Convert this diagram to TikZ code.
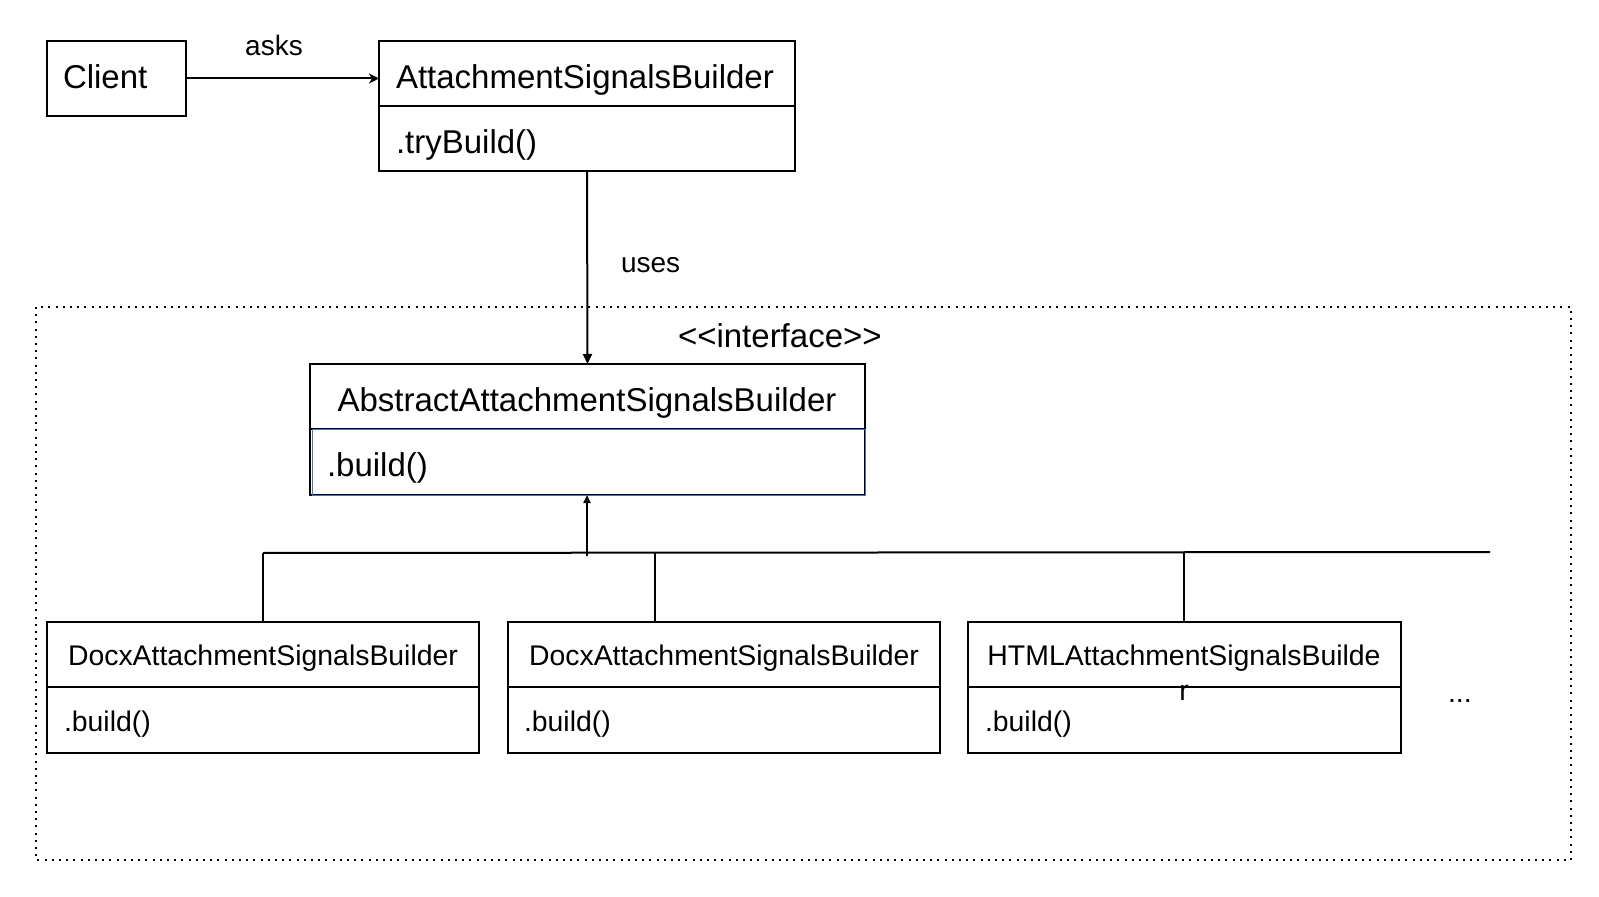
\documentclass[tikz,border=0pt]{standalone}
\usepackage{fontspec}
\setmainfont{Liberation Sans}
\usetikzlibrary{arrows.meta}
\begin{document}
\begin{tikzpicture}[x=0.5pt,y=-0.5pt,
  box/.style={draw=black, line width=1pt, rectangle, inner sep=0pt, outer sep=0pt},
  big/.style={font=\fontsize{16.5pt}{19pt}\selectfont, inner sep=0pt, outer sep=0pt},
  small/.style={font=\fontsize{14.2pt}{17pt}\selectfont, inner sep=0pt, outer sep=0pt},
  lbl/.style={font=\fontsize{14pt}{17pt}\selectfont, inner sep=0pt, outer sep=0pt},
  conn/.style={line width=1pt, draw=black},
  frame/.style={line width=1pt, dash pattern=on 1pt off 2.6pt}
]
\useasboundingbox (0,0) rectangle (1599,897);
\fill[white] (0,0) rectangle (1599,897);

% frame
\draw[frame] (36,307) rectangle (1571,860);

% Client
\node[box, minimum width=69.5pt, minimum height=37.5pt] (client) at (116.5,78.5) {};
\node[big, anchor=base west] (clientT) at (63,89) {Client};

% AttachmentSignalsBuilder
\node[box, minimum width=208pt, minimum height=32.5pt] (asbTop) at (587,73.5) {};
\node[box, minimum width=208pt, minimum height=32.5pt] (asbBot) at (587,138.5) {};
\node[big, anchor=base west] (asbT) at (396,89) {AttachmentSignalsBuilder};
\node[big, anchor=base west] (asbM) at (396,154) {.tryBuild()};

% asks
\draw[conn, -{Stealth[length=5pt,width=5pt,inset=1.5pt]}] (client.east) -- (client.east -| asbTop.west);
\node[lbl, anchor=base] (asks) at (274,56) {asks};

% Abstract
\node[box, minimum width=277.5pt, minimum height=32.5pt] (absTop) at (587.5,396.5) {};
\node[box, minimum width=277.5pt, minimum height=33pt] (absBot) at (587.5,462) {};
\draw[draw={rgb,255:red,68;green,114;blue,196}, line width=0.5pt] ([shift={(2,1)}]absBot.north west) rectangle ([shift={(0,0)}]absBot.south east);
\node[big, anchor=base] (absT) at (587,412) {AbstractAttachmentSignalsBuilder};
\node[big, anchor=base west] (absM) at (327,477) {.build()};
\node[big, anchor=base west] (iface) at (678,348) {<{}<interface>{}>};

% uses
\draw[conn, -{Triangle[length=5pt,width=4.5pt]}] (asbBot.south) -- (absTop.north);
\node[lbl, anchor=base west] (uses) at (621,273) {uses};

% concrete builders
\node[box, minimum width=216pt, minimum height=32.5pt] (b1Top) at (263,654.5) {};
\node[box, minimum width=216pt, minimum height=33pt] (b1Bot) at (263,720) {};
\node[box, minimum width=216pt, minimum height=32.5pt] (b2Top) at (724,654.5) {};
\node[box, minimum width=216pt, minimum height=33pt] (b2Bot) at (724,720) {};
\node[box, minimum width=216.5pt, minimum height=32.5pt] (b3Top) at (1184.5,654.5) {};
\node[box, minimum width=216.5pt, minimum height=33pt] (b3Bot) at (1184.5,720) {};

\node[small, anchor=base] (b1T) at (263,665) {DocxAttachmentSignalsBuilder};
\node[small, anchor=base] (b2T) at (724,665) {DocxAttachmentSignalsBuilder};
\node[small, anchor=base] (b3T) at (1184,665) {HTMLAttachmentSignalsBuilde};
\node[small, anchor=base] (b3R) at (1184,700) {r};
\node[small, anchor=base west] (b1M) at (64,731) {.build()};
\node[small, anchor=base west] (b2M) at (524,731) {.build()};
\node[small, anchor=base west] (b3M) at (985,731) {.build()};
\node[small, anchor=base west] (dots) at (1448,702) {...};

% inheritance
\coordinate (busL) at (263,553);
\coordinate (busR) at (1490,552);
\coordinate (busA) at (587,556);
\coordinate (j2) at (655,553);
\coordinate (j3) at (1184,553);
\draw[conn] (busL) -- (busR);
\draw[conn] (busL) -- (b1Top.north);
\draw[conn] (j2) -- (j2 |- b2Top.north);
\draw[conn] (j3) -- (j3 |- b3Top.north);
\draw[conn, -{Triangle[open,length=4pt,width=3.5pt]}] (busA) -- (absBot.south -| busA);
\end{tikzpicture}
\end{document}
